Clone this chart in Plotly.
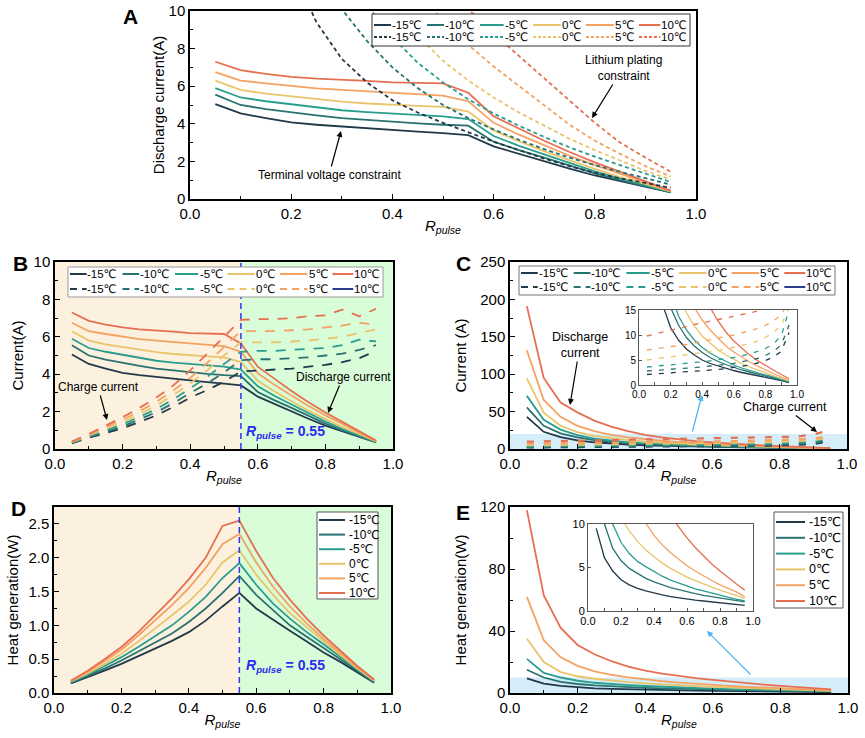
import plotly.graph_objects as go

W, H = 865, 738
def px(x): return x / W
def py(y): return 1 - y / H

# ---------------- data ----------------
R_PULSE = [0.05, 0.10, 0.15, 0.20, 0.25, 0.30, 0.35, 0.40, 0.45, 0.50,
           0.55, 0.60, 0.65, 0.70, 0.75, 0.80, 0.85, 0.90, 0.95]
TEMPS = ["-15℃", "-10℃", "-5℃", "0℃", "5℃", "10℃"]
COLORS = ["#22394a", "#287271", "#2a9d8f", "#e9c46a", "#f4a261", "#e76f51"]

# A: discharge current, terminal-voltage constraint (solid) -- also used as B discharge
A_TERMINAL_VOLTAGE = [
    [5.05, 4.55, 4.30, 4.07, 3.95, 3.85, 3.75, 3.65, 3.58, 3.50, 3.40, 2.80, 2.40, 2.03, 1.62, 1.25, 0.95, 0.63, 0.35],
    [5.55, 5.00, 4.78, 4.60, 4.45, 4.30, 4.20, 4.10, 4.02, 3.95, 3.90, 3.05, 2.60, 2.20, 1.76, 1.36, 1.00, 0.68, 0.36],
    [5.90, 5.40, 5.20, 5.05, 4.88, 4.72, 4.62, 4.55, 4.47, 4.40, 4.25, 3.35, 2.83, 2.37, 1.90, 1.47, 1.08, 0.73, 0.37],
    [6.30, 5.80, 5.60, 5.45, 5.30, 5.18, 5.08, 5.00, 4.95, 4.90, 4.65, 3.65, 3.07, 2.55, 2.05, 1.60, 1.17, 0.80, 0.40],
    [6.75, 6.30, 6.15, 6.00, 5.88, 5.80, 5.72, 5.65, 5.58, 5.50, 5.20, 4.05, 3.42, 2.85, 2.30, 1.80, 1.32, 0.88, 0.42],
    [7.30, 6.85, 6.65, 6.50, 6.40, 6.35, 6.28, 6.20, 6.18, 6.15, 5.65, 4.40, 3.75, 3.10, 2.50, 1.95, 1.45, 0.95, 0.45],
]
# A: lithium plating constraint (dashed); None = far above the axis
A_LITHIUM_PLATING = [
    [None, None, None, 12.3, 9.4, 7.45, 6.2, 5.25, 4.6, 4.05, 3.55, 3.05, 2.6, 2.15, 1.75, 1.4, 1.1, 0.85, 0.6],
    [None, None, None, None, 12.5, 10.1, 8.4, 7.0, 5.9, 5.0, 4.3, 3.7, 3.15, 2.65, 2.2, 1.8, 1.45, 1.1, 0.76],
    [None, None, None, None, None, 12.4, 10.3, 8.6, 7.25, 6.2, 5.3, 4.55, 3.9, 3.3, 2.75, 2.25, 1.8, 1.35, 0.9],
    [None, None, None, None, None, None, 12.3, 10.3, 8.7, 7.35, 6.3, 5.4, 4.6, 3.9, 3.2, 2.6, 2.05, 1.5, 1.03],
    [None, None, None, None, None, None, None, 12.8, 11.0, 9.5, 8.2, 7.05, 6.0, 4.95, 3.95, 3.1, 2.4, 1.75, 1.2],
    [None, None, None, None, None, None, None, None, None, 11.6, 10.1, 8.8, 7.6, 6.4, 5.2, 4.05, 3.0, 2.2, 1.45],
]
# B: charge current (dashed)
B_CHARGE = [
    [0.30, 0.60, 0.85, 1.10, 1.45, 1.80, 2.25, 2.75, 3.15, 3.60, 4.15, 4.20, 4.25, 4.30, 4.40, 4.50, 4.65, 4.85, 5.25],
    [0.32, 0.64, 0.93, 1.20, 1.60, 1.97, 2.45, 3.00, 3.50, 4.10, 4.75, 4.80, 4.80, 4.85, 4.90, 5.00, 5.10, 5.30, 5.55],
    [0.34, 0.68, 1.00, 1.32, 1.72, 2.14, 2.65, 3.25, 3.85, 4.55, 5.20, 5.25, 5.25, 5.30, 5.35, 5.40, 5.55, 5.85, 5.75],
    [0.36, 0.72, 1.08, 1.44, 1.86, 2.32, 2.88, 3.50, 4.20, 5.00, 5.70, 5.70, 5.70, 5.75, 5.80, 5.90, 6.00, 6.20, 6.40],
    [0.38, 0.76, 1.16, 1.56, 2.02, 2.52, 3.12, 3.80, 4.60, 5.45, 6.30, 6.30, 6.30, 6.35, 6.40, 6.50, 6.60, 6.75, 6.65],
    [0.40, 0.80, 1.25, 1.70, 2.20, 2.75, 3.40, 4.20, 5.10, 6.00, 6.90, 6.95, 6.95, 7.00, 7.10, 7.15, 7.45, 7.10, 7.50],
]
# C: discharge current (solid) and charge current (dashed)
C_DISCHARGE = [
    [43, 23, 16, 11.5, 9.0, 7.2, 6.0, 5.0, 4.3, 3.8, 3.3, 2.9, 2.5, 2.2, 1.85, 1.5, 1.2, 0.9, 0.5],
    [55.7, 31, 21, 15.5, 12, 9.5, 7.8, 6.5, 5.5, 4.7, 4.1, 3.5, 3.0, 2.6, 2.2, 1.8, 1.4, 1.0, 0.6],
    [71, 39, 26, 18.5, 13.8, 11, 9.0, 7.5, 6.4, 5.5, 4.7, 4.0, 3.4, 2.9, 2.4, 2.0, 1.6, 1.1, 0.7],
    [94.5, 48.6, 31, 22.5, 17.5, 14.5, 11.8, 9.8, 8.3, 7.0, 6.0, 5.1, 4.3, 3.6, 3.0, 2.4, 1.9, 1.3, 0.8],
    [132, 65.5, 43, 31, 24, 19, 15.5, 13, 11, 9.3, 7.8, 6.6, 5.6, 4.6, 3.8, 3.0, 2.3, 1.6, 1.0],
    [191, 95, 62, 49, 38, 30, 24, 19, 15.5, 12.8, 10.6, 8.8, 7.3, 6.0, 4.9, 3.9, 3.0, 2.1, 1.3],
]
C_CHARGE = [
    [2.1, 2.2, 2.3, 2.4, 2.5, 2.6, 2.7, 2.8, 3.0, 3.1, 3.3, 3.5, 3.7, 4.0, 4.4, 4.9, 5.6, 6.7, 10.5],
    [2.8, 2.9, 3.0, 3.1, 3.2, 3.3, 3.5, 3.6, 3.8, 3.9, 4.1, 4.3, 4.6, 4.9, 5.3, 5.9, 6.7, 8.0, 12.0],
    [3.6, 3.8, 3.9, 4.0, 4.2, 4.3, 4.5, 4.6, 4.8, 5.0, 5.2, 5.5, 5.8, 6.2, 6.7, 7.3, 8.2, 9.8, 15.0],
    [5.0, 5.2, 5.4, 5.6, 5.8, 6.0, 6.2, 6.4, 6.6, 6.9, 7.2, 7.5, 7.9, 8.3, 8.8, 9.5, 10.5, 12.0, 15.5],
    [7.0, 7.2, 7.4, 7.6, 7.9, 8.1, 8.4, 8.7, 9.0, 9.3, 9.6, 10.0, 10.4, 10.8, 11.3, 11.9, 12.8, 14.0, 17.0],
    [9.8, 10.2, 10.6, 11.0, 11.3, 11.7, 12.1, 12.4, 12.8, 13.1, 13.4, 13.8, 14.1, 14.4, 14.8, 15.5, 16.5, 19.5, 25.0],
]
# D: heat generation (W)
D_HEAT = [
    [0.14, 0.23, 0.33, 0.43, 0.54, 0.65, 0.77, 0.90, 1.07, 1.28, 1.48, 1.25, 1.08, 0.92, 0.76, 0.60, 0.46, 0.30, 0.15],
    [0.15, 0.25, 0.36, 0.48, 0.61, 0.74, 0.88, 1.05, 1.25, 1.48, 1.73, 1.45, 1.22, 1.00, 0.83, 0.67, 0.50, 0.33, 0.16],
    [0.16, 0.27, 0.40, 0.53, 0.68, 0.84, 1.00, 1.20, 1.42, 1.70, 1.92, 1.60, 1.32, 1.10, 0.90, 0.72, 0.53, 0.35, 0.17],
    [0.17, 0.29, 0.43, 0.58, 0.76, 0.95, 1.15, 1.35, 1.60, 1.93, 2.11, 1.75, 1.45, 1.18, 0.97, 0.76, 0.56, 0.36, 0.18],
    [0.18, 0.31, 0.47, 0.64, 0.85, 1.07, 1.30, 1.55, 1.85, 2.20, 2.35, 1.93, 1.57, 1.28, 1.03, 0.80, 0.59, 0.38, 0.19],
    [0.18, 0.33, 0.50, 0.68, 0.90, 1.15, 1.40, 1.68, 2.00, 2.47, 2.55, 2.10, 1.70, 1.38, 1.10, 0.85, 0.62, 0.40, 0.20],
]
# E: heat generation (W)
E_HEAT = [
    [9.5, 6.1, 4.6, 3.6, 3.0, 2.6, 2.3, 2.05, 1.85, 1.65, 1.5, 1.35, 1.25, 1.15, 1.05, 0.95, 0.85, 0.75, 0.65],
    [15, 10, 7.2, 5.8, 4.9, 4.3, 3.75, 3.35, 3.0, 2.7, 2.45, 2.2, 2.0, 1.8, 1.65, 1.5, 1.35, 1.2, 1.05],
    [22, 13, 10, 7.9, 6.6, 5.7, 5.1, 4.5, 4.0, 3.55, 3.2, 2.85, 2.55, 2.3, 2.05, 1.8, 1.6, 1.35, 1.15],
    [35, 20, 13.5, 10.8, 9.2, 8.0, 7.0, 6.2, 5.5, 4.9, 4.4, 3.9, 3.5, 3.1, 2.75, 2.4, 2.1, 1.8, 1.45],
    [62, 34, 23, 17.5, 14, 11.7, 10.1, 8.7, 7.6, 6.7, 5.9, 5.2, 4.6, 4.0, 3.5, 3.0, 2.6, 2.2, 1.65],
    [118, 63, 42, 31, 25, 20.5, 17, 14.5, 12.5, 10.9, 9.6, 8.4, 7.3, 6.3, 5.4, 4.6, 3.8, 3.1, 2.4],
]

SPLIT = 0.55
C_BAND_TOP = 20
E_BAND_TOP = 10

FONT = "Arial, Liberation Sans, DejaVu Sans, sans-serif"
XTITLE = "<i>R</i><sub><i>pulse</i></sub>"

fig = go.Figure()

def add_lines(ys, xa, ya, width=1.8, dash="solid"):
    for i, t in enumerate(TEMPS):
        fig.add_trace(go.Scatter(
            x=R_PULSE, y=ys[i], mode="lines", name=t, showlegend=False,
            line=dict(color=COLORS[i], width=width, dash=dash),
            xaxis=xa, yaxis=ya, hoverinfo="skip"))

# A
add_lines(A_TERMINAL_VOLTAGE, "x", "y")
add_lines(A_LITHIUM_PLATING, "x", "y", dash="4px,3px")
# B
add_lines(A_TERMINAL_VOLTAGE, "x2", "y2")
add_lines(B_CHARGE, "x2", "y2", width=1.8, dash="10px,9px")
# C
add_lines(C_DISCHARGE, "x3", "y3")
add_lines(C_CHARGE, "x3", "y3", width=2.2, dash="7px,10px")
# C inset
add_lines(C_DISCHARGE, "x4", "y4", width=1.3)
add_lines(C_CHARGE, "x4", "y4", width=1.3, dash="5px,7px")
# D
add_lines(D_HEAT, "x5", "y5")
# E
add_lines(E_HEAT, "x6", "y6")
add_lines(E_HEAT, "x7", "y7", width=1.3)

def xaxis(dom, anchor, rng, dtick, mdtick, fmt, fs, title=None, lw=1.5, lc="black", tlen=5):
    d = dict(domain=[px(dom[0]), px(dom[1])], anchor=anchor, range=rng,
             dtick=dtick, tick0=0, tickformat=fmt, ticks="inside", ticklen=tlen,
             tickwidth=1.2, tickcolor=lc, showline=True, mirror=True, linecolor=lc,
             linewidth=lw, showgrid=False, zeroline=False, automargin=False,
             tickfont=dict(size=fs, color="black", family=FONT),
             minor=dict(ticks="inside", ticklen=3, dtick=mdtick, tickcolor=lc, tickwidth=1))
    if title:
        d["title"] = dict(text=title, font=dict(size=15, family=FONT), standoff=0)
    return d

def yaxis(dom, anchor, rng, dtick, mdtick, fmt, fs, title=None, standoff=10, lw=1.5, lc="black", tlen=5):
    d = dict(domain=[py(dom[1]), py(dom[0])], anchor=anchor, range=rng,
             dtick=dtick, tick0=0, tickformat=fmt, ticks="inside", ticklen=tlen,
             tickwidth=1.2, tickcolor=lc, showline=True, mirror=True, linecolor=lc,
             linewidth=lw, showgrid=False, zeroline=False, automargin=False,
             tickfont=dict(size=fs, color="black", family=FONT),
             minor=dict(ticks="inside", ticklen=3, dtick=mdtick, tickcolor=lc, tickwidth=1))
    if title:
        d["title"] = dict(text=title, font=dict(size=15, family=FONT), standoff=standoff)
    return d

A_X, A_Y = (190, 696), (11, 199)
B_X, B_Y = (55, 393), (262, 449)
C_X, C_Y = (510, 847), (262, 449)
CI_X, CI_Y = (639, 797), (310, 385)
D_X, D_Y = (54, 391), (507, 693)
E_X, E_Y = (510, 848), (507, 693)
EI_X, EI_Y = (588, 753), (524, 611)

layout = dict(
    width=W, height=H, margin=dict(l=0, r=0, t=0, b=0),
    paper_bgcolor="white", plot_bgcolor="white", showlegend=False,
    font=dict(family=FONT, color="black"),
    xaxis=xaxis(A_X, "y", [0, 1], 0.2, 0.1, ".1f", 15, XTITLE),
    yaxis=yaxis(A_Y, "x", [0, 10], 2, 1, "d", 15, "Discharge current(A)", standoff=0),
    xaxis2=xaxis(B_X, "y2", [0, 1], 0.2, 0.1, ".1f", 15, XTITLE),
    yaxis2=yaxis(B_Y, "x2", [0, 10], 2, 1, "d", 15, "Current(A)", standoff=6),
    xaxis3=xaxis(C_X, "y3", [0, 1], 0.2, 0.1, ".1f", 15, XTITLE),
    yaxis3=yaxis(C_Y, "x3", [0, 250], 50, 25, "d", 15, "Current (A)", standoff=10),
    xaxis4=xaxis(CI_X, "y4", [0, 1], 0.2, 0.1, ".1f", 10, lw=1, lc="#555555", tlen=3),
    yaxis4=yaxis(CI_Y, "x4", [0, 15], 5, 5, "d", 10, lw=1, lc="#555555", tlen=3),
    xaxis5=xaxis(D_X, "y5", [0, 1], 0.2, 0.1, ".1f", 15, XTITLE),
    yaxis5=yaxis(D_Y, "x5", [0, 2.75], 0.5, 0.25, ".1f", 15, "Heat generation(W)", standoff=6),
    xaxis6=xaxis(E_X, "y6", [0, 1], 0.2, 0.1, ".1f", 15, XTITLE),
    yaxis6=yaxis(E_Y, "x6", [0, 120], 40, 20, "d", 15, "Heat generation(W)", standoff=10),
    xaxis7=xaxis(EI_X, "y7", [0, 1], 0.2, 0.1, ".1f", 11, lw=1, lc="#555555", tlen=3),
    yaxis7=yaxis(EI_Y, "x7", [0, 10], 5, 5, "d", 11, lw=1, lc="#555555", tlen=3),
)
fig.update_layout(**layout)

shapes = []
PEACH, GREEN, LBLUE = "#fcf1de", "#d9fcd9", "#d5edf9"
for xa, ya in (("x2", "y2"), ("x5", "y5")):
    shapes.append(dict(type="rect", xref=xa, yref=ya + " domain", x0=0, x1=SPLIT, y0=0, y1=1,
                       fillcolor=PEACH, line=dict(width=0), layer="below"))
    shapes.append(dict(type="rect", xref=xa, yref=ya + " domain", x0=SPLIT, x1=1, y0=0, y1=1,
                       fillcolor=GREEN, line=dict(width=0), layer="below"))
    shapes.append(dict(type="line", xref=xa, yref=ya + " domain", x0=SPLIT, x1=SPLIT, y0=0, y1=1,
                       line=dict(color="#3434f0", width=1.5, dash="6px,4px"), layer="above"))
shapes.append(dict(type="rect", xref="x3 domain", yref="y3", x0=0, x1=1, y0=0, y1=C_BAND_TOP,
                   fillcolor=LBLUE, line=dict(width=0), layer="below"))
shapes.append(dict(type="rect", xref="x6 domain", yref="y6", x0=0, x1=1, y0=0, y1=E_BAND_TOP,
                   fillcolor=LBLUE, line=dict(width=0), layer="below"))
for xa, ya in (("x4", "y4"), ("x7", "y7")):
    shapes.append(dict(type="rect", xref=xa + " domain", yref=ya + " domain", x0=0, x1=1, y0=0, y1=1,
                       fillcolor=LBLUE, line=dict(width=0), layer="below"))

annotations = []

def text_w(s, fs):
    w = 0
    for ch in s:
        if ch == "℃":
            w += 1.1 * fs
        elif ch == "-":
            w += 0.36 * fs
        else:
            w += 0.57 * fs
    return w

def h_legend(box, row_ys, rows, fs=11.5, border="#555555"):
    x0, y0, x1, y1 = box
    shapes.append(dict(type="rect", xref="paper", yref="paper", x0=px(x0), x1=px(x1),
                       y0=py(y1), y1=py(y0), fillcolor="white",
                       line=dict(color=border, width=1), layer="above"))
    n = len(rows[0])
    cw = (x1 - x0) / n
    for ry, row in zip(row_ys, rows):
        for j, (col, dash, lab) in enumerate(row):
            cx0 = x0 + j * cw
            cx1 = cx0 + cw
            tw = text_w(lab, fs)
            shapes.append(dict(type="line", xref="paper", yref="paper",
                               x0=px(cx0 + 2), x1=px(cx1 - tw - 4), y0=py(ry), y1=py(ry),
                               line=dict(color=col, width=2, dash=dash), layer="above"))
            annotations.append(dict(xref="paper", yref="paper", x=px(cx1 - 1), y=py(ry),
                                    text=lab, showarrow=False, xanchor="right", yanchor="middle",
                                    font=dict(size=fs, family=FONT, color="black")))

def v_legend(box, first_y, step, sw, fs=12, border="#555555"):
    x0, y0, x1, y1 = box
    shapes.append(dict(type="rect", xref="paper", yref="paper", x0=px(x0), x1=px(x1),
                       y0=py(y1), y1=py(y0), fillcolor="white",
                       line=dict(color=border, width=1), layer="above"))
    for i, lab in enumerate(TEMPS):
        ry = first_y + i * step
        shapes.append(dict(type="line", xref="paper", yref="paper",
                           x0=px(x0 + 2), x1=px(x0 + 2 + sw), y0=py(ry), y1=py(ry),
                           line=dict(color=COLORS[i], width=2), layer="above"))
        annotations.append(dict(xref="paper", yref="paper", x=px(x0 + 4 + sw), y=py(ry),
                                text=lab, showarrow=False, xanchor="left", yanchor="middle",
                                font=dict(size=fs, family=FONT, color="black")))

solid_row = [(COLORS[i], "solid", TEMPS[i]) for i in range(6)]
h_legend((372, 14, 690, 46), (25, 37),
         [solid_row, [(COLORS[i], "3px,2px", TEMPS[i]) for i in range(6)]], border="#333333")
bc_dashed = [(COLORS[i], "7px,5px", TEMPS[i]) for i in range(5)] + [("#2b3d8f", "solid", TEMPS[5])]
h_legend((68, 267, 383, 297), (274, 289), [solid_row, bc_dashed], border="#9a9a9a")
h_legend((519, 266, 835, 295), (273, 287), [solid_row, bc_dashed], border="#777777")
v_legend((317, 512, 378, 599), 520, 14.6, 26, fs=12)
v_legend((774, 512, 843, 608), 522, 15.8, 29, fs=12.5)

def label(x, y, s, fs=12, color="black", xanchor="center"):
    annotations.append(dict(xref="paper", yref="paper", x=px(x), y=py(y), text=s,
                            showarrow=False, xanchor=xanchor, yanchor="middle",
                            font=dict(size=fs, family=FONT, color=color)))

def callout(text_xy, tip, s, fs=12):
    annotations.append(dict(xref="paper", yref="paper", x=px(tip[0]), y=py(tip[1]), text=s,
                            showarrow=True, ax=text_xy[0] - tip[0], ay=text_xy[1] - tip[1],
                            arrowhead=2, arrowsize=1, arrowwidth=1.2, arrowcolor="black",
                            standoff=0, font=dict(size=fs, family=FONT, color="black")))

def arrow(tip, tail, color="black"):
    annotations.append(dict(xref="paper", yref="paper", x=px(tip[0]), y=py(tip[1]), text="",
                            showarrow=True, ax=tail[0] - tip[0], ay=tail[1] - tip[1],
                            arrowhead=2, arrowsize=1, arrowwidth=1.2, arrowcolor=color,
                            standoff=0, startstandoff=0))

# panel letters
for (x, y, s) in ((130, 17, "A"), (20, 263, "B"), (463, 263, "C"), (18, 508, "D"), (463, 512, "E")):
    label(x, y, "<b>%s</b>" % s, fs=21)

callout((329, 175), (341, 131), "Terminal voltage constraint")
callout((623, 68), (592, 118), "Lithium plating<br>constraint")
callout((98, 387), (107, 420), "Charge current")
callout((343, 377), (328, 413), "Discharge current")
PULSE_LABEL = "<b><i>R</i><sub><i>pulse</i></sub> = 0.55</b>"
label(244, 432, PULSE_LABEL, fs=14, color="#2b2bf0", xanchor="left")
label(244, 666, PULSE_LABEL, fs=14, color="#2b2bf0", xanchor="left")

callout((580, 345), (570, 405), "Discharge<br>current", fs=12.5)
callout((785, 407), (817, 432), "Charge current", fs=12.5)
arrow((702, 395), (692, 433), color="#4db3f0")
arrow((707, 631), (752, 676), color="#4db3f0")

fig.update_layout(shapes=shapes, annotations=annotations)
fig.write_html("out.html", config={"displayModeBar": False},
               post_script="document.body.style.margin='0px';")
